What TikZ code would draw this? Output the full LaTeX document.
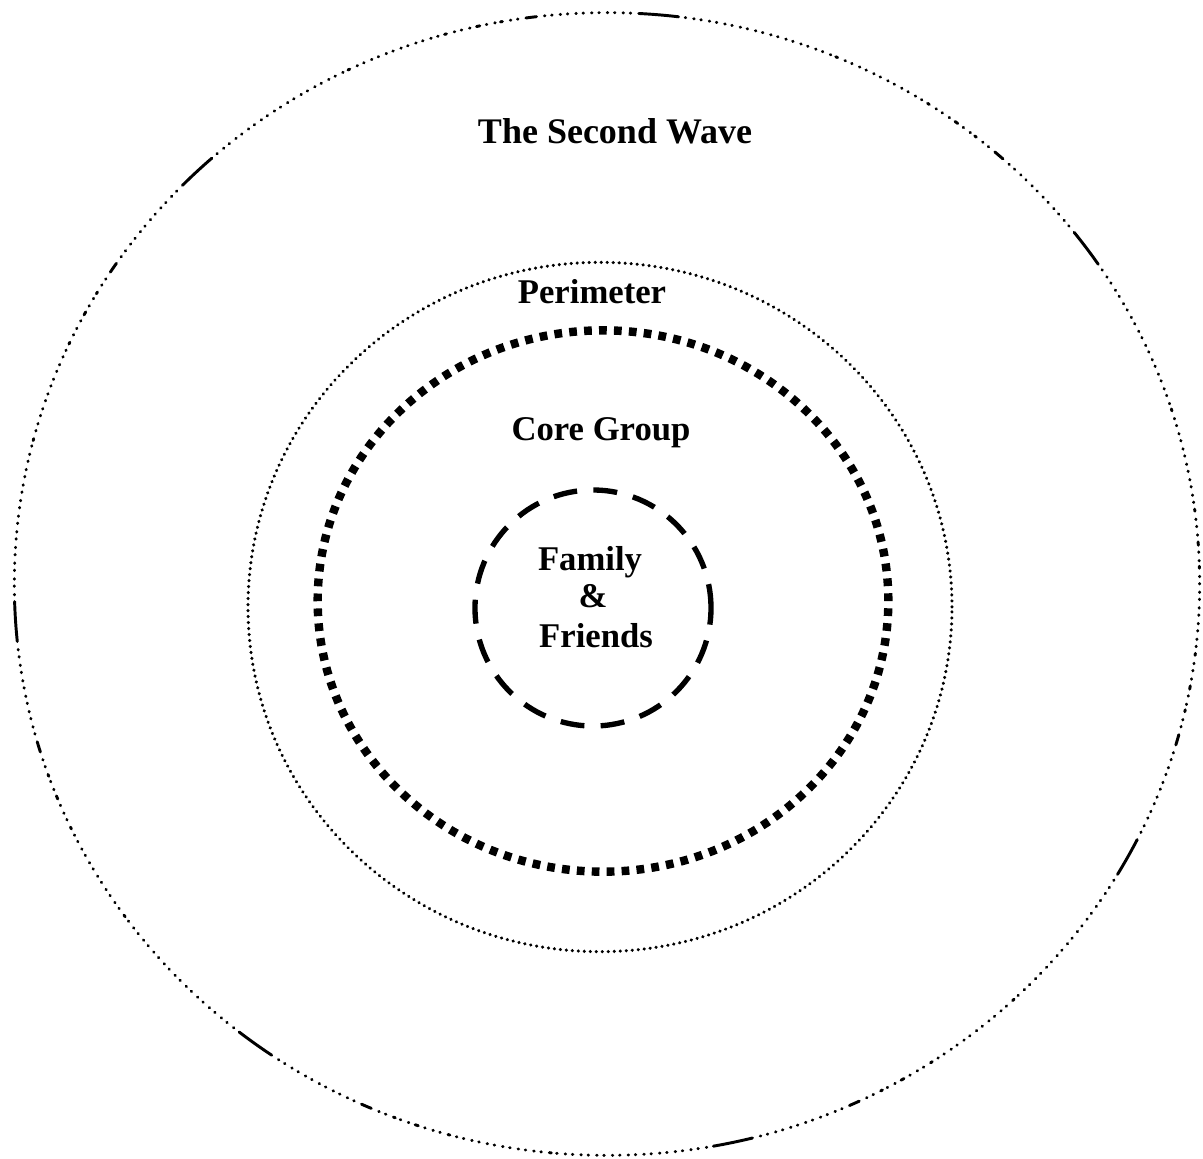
\documentclass[tikz,border=0pt]{standalone}
\usepackage{fontspec}
\setmainfont{Liberation Serif}
\usetikzlibrary{shapes.geometric}
\begin{document}
\begin{tikzpicture}[x=0.75pt,y=-0.75pt,
  lbl/.style={font=\fontsize{26}{29}\selectfont\bfseries, inner sep=0pt, anchor=base},
  ring/.style={ellipse, inner sep=0pt, draw=black},
  outerring/.style={ring, line width=2.2pt, line cap=round,
    dash pattern=on 0.4pt off 5pt on 0.4pt off 6pt on 1.5pt off 4pt on 0.4pt off 6pt on 0.4pt off 5pt on 2.5pt off 5pt on 0.4pt off 6pt on 0.4pt off 5pt on 0.4pt off 6pt on 1.5pt off 5pt on 0.4pt off 5pt on 0.4pt off 6pt on 0.4pt off 5pt on 0.4pt off 6pt on 0.4pt off 5pt on 0.4pt off 6pt on 0.4pt off 5pt on 0.4pt off 6pt on 0.4pt off 5pt on 0.4pt off 6pt on 0.4pt off 5pt on 0.4pt off 6pt on 1.5pt off 4pt on 0.4pt off 6pt on 0.4pt off 5pt on 0.4pt off 6pt on 0.4pt off 5pt on 0.4pt off 6pt on 0.4pt off 5pt on 0.4pt off 6pt on 0.4pt off 5pt on 0.4pt off 6pt on 0.4pt off 5pt on 0.4pt off 6pt on 0.4pt off 5pt on 0.4pt off 6pt on 0.4pt off 5pt on 0.4pt off 6pt on 0.4pt off 5pt on 0.4pt off 6pt on 0.4pt off 5pt on 0.4pt off 6pt on 0.4pt off 5pt on 30pt off 6pt on 0.4pt off 5pt on 0.4pt off 6pt on 0.4pt off 5pt on 0.4pt off 6pt on 0.4pt off 5pt on 0.4pt off 6pt on 0.4pt off 5pt on 0.4pt off 6pt on 0.4pt off 5pt on 0.4pt off 6pt on 0.4pt off 5pt on 0.4pt off 6pt on 8pt off 6pt},
  perimring/.style={ring, line width=2.5pt, line cap=round, dash pattern=on 0.1pt off 4.4pt},
  corering/.style={ring, line width=6.3pt, dash pattern=on 5.8pt off 5.4pt},
  famring/.style={ring, line width=4pt, dash pattern=on 18pt off 12.2pt}]
\useasboundingbox (0,0) rectangle (1203,1158);
\fill[white] (0,0) rectangle (1203,1158);
% rings
\node[outerring, minimum width=889pt, minimum height=857pt] (outer) at (607,584) {};
\node[perimring, minimum width=528pt, minimum height=517pt] (perim) at (600,607) {};
\node[corering, minimum width=428pt, minimum height=406pt] (core) at (603,601) {};
\node[famring, minimum width=177pt, minimum height=177pt] (fam) at (593,608) {};
% labels
\node[lbl, font=\fontsize{27}{30}\selectfont\bfseries] (lwave) at (615,143) {The Second Wave};
\node[lbl] (lperim) at (592,303) {Perimeter};
\node[lbl] (lcore) at (601,440) {Core Group};
\node[lbl] (lfam1) at (590,570) {Family};
\node[lbl] (lfam2) at (593,607) {\&};
\node[lbl] (lfam3) at (596,647) {Friends};
\end{tikzpicture}
\end{document}
